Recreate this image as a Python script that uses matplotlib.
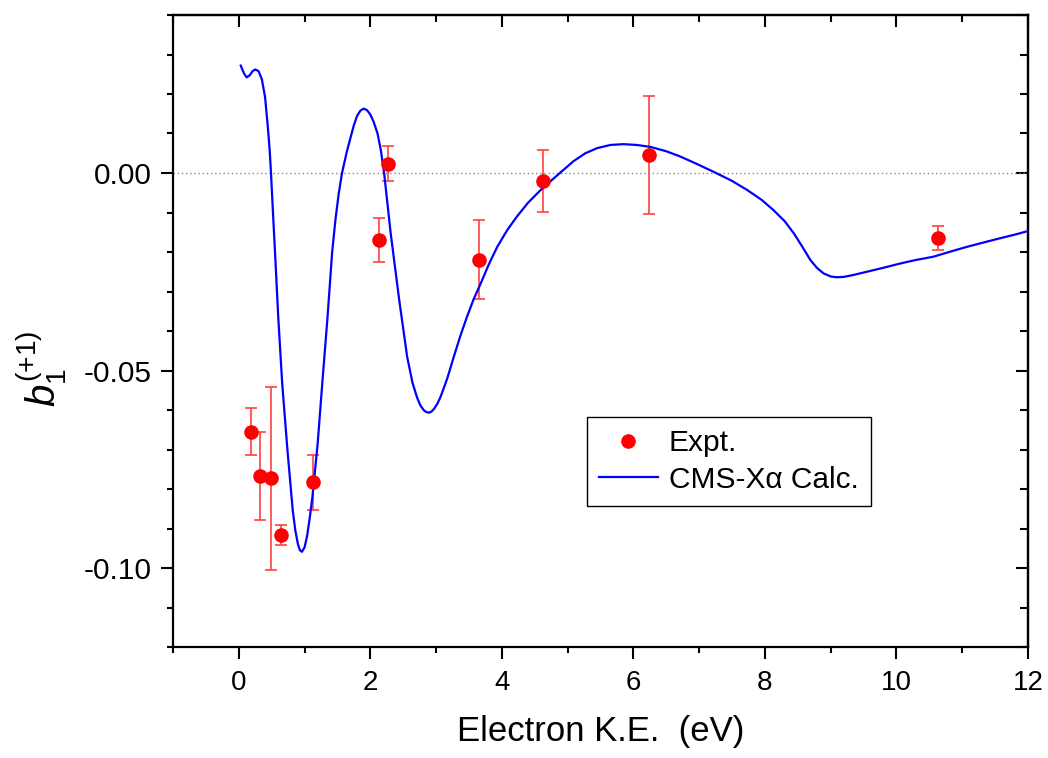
import numpy as np
import matplotlib
matplotlib.use("Agg")
import matplotlib.pyplot as plt
from matplotlib.ticker import MultipleLocator, FormatStrFormatter

plt.rcParams["font.family"] = ["Liberation Sans", "DejaVu Sans"]
plt.rcParams["mathtext.fontset"] = "custom"
plt.rcParams["mathtext.rm"] = "Liberation Sans"
plt.rcParams["mathtext.it"] = "Liberation Sans:italic"

expt_x = [0.18, 0.33, 0.49, 0.64, 1.13, 2.13, 2.27, 3.65, 4.63, 6.24, 10.63]
expt_y = [-0.0655, -0.0767, -0.0773, -0.0916, -0.0783, -0.0170, 0.0024,
          -0.0220, -0.0020, 0.0046, -0.0164]
expt_err = [0.0060, 0.0112, 0.0232, 0.0025, 0.0070, 0.0055, 0.0044,
            0.0100, 0.0078, 0.0150, 0.0030]

# CMS-Xalpha calculation
calc_x = [0.03, 0.08, 0.12, 0.17, 0.21, 0.25, 0.30, 0.35, 0.40, 0.44,
          0.47, 0.49, 0.52, 0.56, 0.60, 0.66, 0.74, 0.82, 0.86, 0.90,
          0.93, 0.96, 1.00, 1.04, 1.08, 1.12, 1.20, 1.27, 1.35, 1.42,
          1.47, 1.52, 1.57, 1.64, 1.70, 1.75, 1.80, 1.85, 1.90, 1.95,
          2.00, 2.05, 2.11, 2.16, 2.21, 2.31, 2.44, 2.56, 2.64, 2.71,
          2.76, 2.81, 2.85, 2.89, 2.93, 2.97, 3.02, 3.07, 3.17, 3.27,
          3.37, 3.47, 3.57, 3.68, 3.80, 3.93, 4.08, 4.23, 4.40, 4.59,
          4.80, 5.09, 5.27, 5.45, 5.65, 5.85, 6.05, 6.26, 6.50, 6.71,
          6.95, 7.22, 7.50, 7.73, 7.95, 8.13, 8.30, 8.44, 8.57, 8.69,
          8.79, 8.89, 9.00, 9.09, 9.20, 9.35, 9.55, 9.80, 10.06, 10.30,
          10.56, 10.80, 11.07, 11.30, 11.58, 11.80, 12.00]
calc_y = [0.0272, 0.0252, 0.0242, 0.0248, 0.0258, 0.0262, 0.0258, 0.0238,
          0.0192, 0.0120, 0.0058, 0.0000, -0.0100, -0.0230, -0.0364,
          -0.0532, -0.0701, -0.0853, -0.0905, -0.0940, -0.0955, -0.0959,
          -0.0948, -0.0918, -0.0872, -0.0820, -0.0684, -0.0532, -0.0364,
          -0.0200, -0.0118, -0.0052, 0.0000, 0.0052, 0.0090, 0.0121,
          0.0145, 0.0158, 0.0163, 0.0159, 0.0148, 0.0130, 0.0100, 0.0058,
          0.0000, -0.0153, -0.0322, -0.0465, -0.0530, -0.0568, -0.0588,
          -0.0600, -0.0605, -0.0607, -0.0604, -0.0597, -0.0584, -0.0566,
          -0.0520, -0.0465, -0.0412, -0.0364, -0.0320, -0.0279, -0.0232,
          -0.0187, -0.0145, -0.0110, -0.0075, -0.0043, -0.0012, 0.0030,
          0.0050, 0.0063, 0.0071, 0.0073, 0.0071, 0.0066, 0.0055, 0.0042,
          0.0024, 0.0003, -0.0020, -0.0043, -0.0068, -0.0094, -0.0122,
          -0.0153, -0.0187, -0.0220, -0.0240, -0.0254, -0.0262, -0.0264,
          -0.0263, -0.0258, -0.0250, -0.0240, -0.0229, -0.0220, -0.0212,
          -0.0200, -0.0187, -0.0177, -0.0165, -0.0156, -0.0147]

fig = plt.figure(figsize=(10.48, 7.58), dpi=100)
ax = fig.add_axes([173 / 1048, 1 - 647 / 758, 855 / 1048, 632 / 758])

ax.axhline(0, color="#888888", linewidth=1.0, linestyle=(0, (1, 2)), zorder=1)
ax.errorbar(expt_x, expt_y, yerr=expt_err, fmt="none", ecolor="#ff4040",
            elinewidth=1.2, capsize=4.3, capthick=1.2, zorder=2)
ax.plot(calc_x, calc_y, color="#0000ff", linewidth=1.6, zorder=3,
        label="CMS-X\u03b1 Calc.")
ax.plot(expt_x, expt_y, "o", color="#ff0000", markersize=10.5,
        markeredgewidth=0, zorder=4, label="Expt.")

ax.set_xlim(-1, 12)
ax.set_ylim(-0.12, 0.04)
ax.xaxis.set_major_locator(MultipleLocator(2))
ax.xaxis.set_minor_locator(MultipleLocator(1))
ax.yaxis.set_major_locator(MultipleLocator(0.05))
ax.yaxis.set_minor_locator(MultipleLocator(0.01))
ax.yaxis.set_major_formatter(FormatStrFormatter("%.2f"))

for s in ax.spines.values():
    s.set_linewidth(1.6)
ax.tick_params(which="both", direction="out", width=1.5)
ax.tick_params(which="major", length=8.5)
ax.tick_params(which="minor", length=4.5)
ax.tick_params(axis="x", labelsize=20, pad=8)
ax.tick_params(axis="y", labelsize=21.5, pad=7)

# mirrored ticks on top and right, pointing in
top = ax.secondary_xaxis("top")
top.xaxis.set_major_locator(MultipleLocator(2))
top.xaxis.set_minor_locator(MultipleLocator(1))
top.tick_params(which="both", direction="in", width=1.5, labeltop=False)
top.tick_params(which="major", length=8.5)
top.tick_params(which="minor", length=5)
right = ax.secondary_yaxis("right")
right.yaxis.set_major_locator(MultipleLocator(0.05))
right.yaxis.set_minor_locator(MultipleLocator(0.01))
right.tick_params(which="both", direction="in", width=1.5, labelright=False)
right.tick_params(which="major", length=8.5)
right.tick_params(which="minor", length=5.5)
for sec in (top, right):
    for s in sec.spines.values():
        s.set_linewidth(1.6)

ax.set_xlabel("Electron K.E.  (eV)", fontsize=25, labelpad=14)
ax.set_ylabel("$b_1^{(+1)}$", fontsize=29)
ax.yaxis.set_label_coords(-0.122, 0.44)

handles, labels = ax.get_legend_handles_labels()
leg = ax.legend(handles[::-1], labels[::-1], loc="upper left",
                bbox_to_anchor=(0.484, 0.364), borderaxespad=0,
                fontsize=21.5, fancybox=False, edgecolor="black",
                handlelength=1.95, handletextpad=0.37, labelspacing=0.28,
                borderpad=0.42, framealpha=1)
leg.get_frame().set_linewidth(1.0)

fig.savefig("out.png", dpi=100)
